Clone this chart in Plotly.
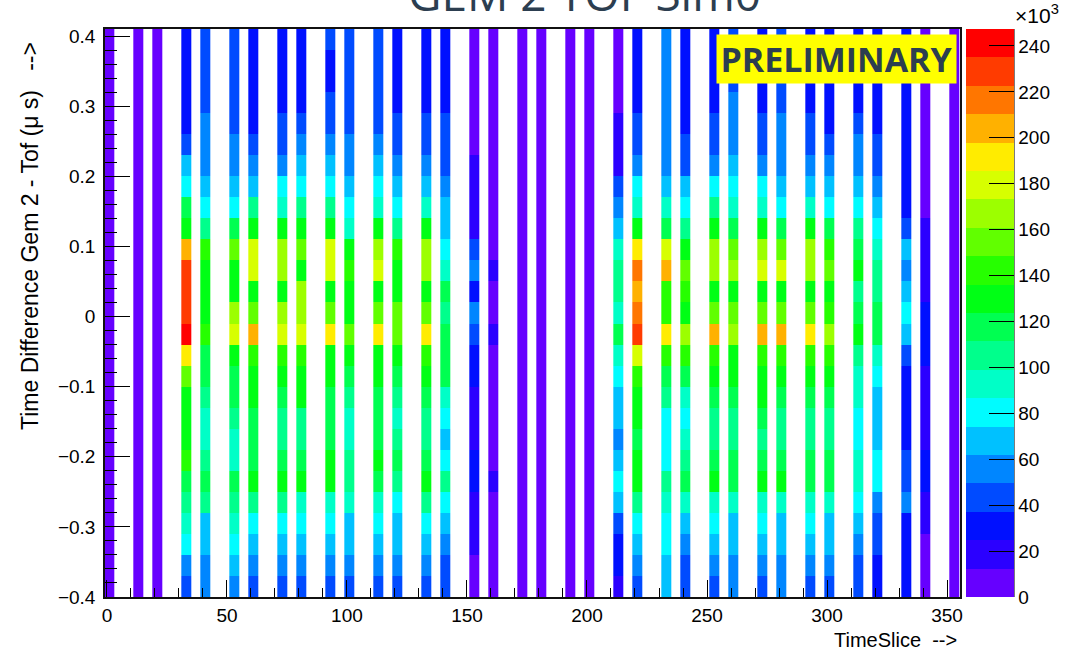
import colorsys
import plotly.graph_objects as go

# ---------------- data (counts in units of 10^3, rows bottom -> top) ----------------
time_slices = [1, 13, 21, 33, 41, 53, 61, 73, 81, 93, 101, 113, 121, 133, 141, 153, 161, 173,
               181, 193, 201, 213, 221, 233, 241, 253, 261, 273, 281, 293, 301, 313, 321, 333, 341, 353]

y_edges = [-0.40, -0.37, -0.34, -0.31, -0.28, -0.25, -0.22, -0.19, -0.16, -0.13, -0.10, -0.07, -0.04,
           -0.01, 0.02, 0.05, 0.08, 0.11, 0.14, 0.17, 0.20, 0.23, 0.26, 0.29, 0.32, 0.35, 0.38, 0.41]

c001 = [4, 5, 5, 6, 6, 7, 7, 6, 7, 7, 8, 8, 9, 9, 8, 8, 7, 7, 6, 6, 5, 5, 5, 4, 4, 4, 4]
c013 = [3, 4, 4, 5, 5, 6, 6, 6, 7, 7, 7, 8, 8, 8, 8, 8, 7, 7, 6, 6, 5, 5, 4, 4, 4, 3, 3]
c021 = [4, 4, 5, 5, 6, 6, 7, 7, 7, 8, 8, 8, 9, 9, 9, 8, 8, 7, 7, 6, 6, 5, 5, 4, 4, 4, 3]
c033 = [43, 56, 80, 93, 105, 117, 142, 130, 130, 130, 155, 192, 241, 229, 229, 226, 204, 130, 117, 80, 68, 43, 31, 31, 31, 31, 31]
c041 = [56, 56, 68, 68, 105, 117, 105, 93, 93, 105, 117, 117, 142, 130, 130, 130, 142, 105, 80, 68, 56, 56, 56, 43, 43, 43, 43]
c053 = [56, 68, 80, 93, 105, 117, 93, 93, 105, 117, 117, 130, 179, 167, 130, 130, 155, 117, 80, 68, 56, 56, 43, 43, 43, 43, 43]
c061 = [43, 56, 68, 80, 105, 130, 117, 117, 117, 130, 130, 142, 204, 155, 130, 179, 179, 130, 105, 68, 56, 43, 31, 31, 31, 31, 31]
c073 = [43, 56, 68, 80, 105, 130, 117, 105, 105, 117, 130, 142, 179, 167, 130, 167, 167, 130, 93, 80, 56, 43, 43, 31, 31, 31, 31]
c081 = [43, 56, 68, 80, 93, 130, 117, 105, 105, 130, 130, 142, 179, 167, 167, 130, 155, 130, 105, 80, 68, 56, 43, 31, 31, 31, 31]
c093 = [43, 56, 68, 80, 93, 130, 130, 117, 117, 117, 130, 130, 192, 155, 130, 179, 179, 130, 105, 80, 68, 56, 43, 43, 31, 31, 43]
c101 = [43, 56, 68, 68, 93, 105, 105, 93, 93, 105, 117, 130, 155, 130, 130, 142, 130, 93, 80, 68, 56, 56, 43, 43, 43, 43, 43]
c113 = [43, 56, 68, 80, 93, 117, 130, 117, 117, 117, 130, 130, 192, 155, 130, 179, 167, 130, 93, 80, 68, 56, 43, 43, 43, 43, 43]
c121 = [43, 56, 68, 68, 80, 105, 117, 105, 93, 105, 117, 130, 155, 155, 130, 130, 142, 105, 80, 68, 56, 43, 43, 31, 31, 31, 31]
c133 = [43, 56, 68, 80, 105, 130, 117, 105, 105, 117, 130, 142, 192, 155, 130, 167, 167, 130, 93, 68, 56, 43, 43, 31, 31, 31, 31]
c141 = [43, 43, 56, 68, 80, 105, 80, 68, 80, 93, 117, 117, 117, 105, 117, 93, 80, 68, 68, 56, 43, 43, 43, 31, 31, 31, 31]
c153 = [5, 8, 18, 18, 18, 31, 31, 18, 18, 18, 31, 31, 43, 56, 31, 50, 40, 18, 18, 18, 18, 6, 5, 4, 5, 4, 5]
c161 = [5, 6, 6, 7, 8, 14, 9, 9, 7, 8, 10, 11, 16, 11, 10, 15, 9, 8, 7, 6, 5, 5, 4, 4, 4, 5, 5]
c173 = [3, 4, 5, 5, 6, 7, 7, 7, 8, 8, 8, 9, 9, 9, 9, 8, 8, 7, 7, 6, 6, 5, 5, 4, 4, 3, 3]
c181 = [4, 4, 5, 6, 6, 7, 7, 8, 8, 8, 9, 9, 10, 10, 9, 9, 8, 8, 7, 7, 6, 5, 5, 4, 4, 4, 4]
c193 = [3, 3, 4, 5, 5, 6, 6, 7, 7, 7, 8, 8, 8, 8, 8, 7, 7, 7, 6, 6, 5, 5, 4, 4, 3, 3, 3]
c201 = [3, 4, 4, 5, 6, 6, 7, 7, 8, 8, 8, 9, 9, 9, 8, 8, 8, 7, 7, 6, 5, 5, 4, 4, 4, 3, 3]
c213 = [18, 31, 31, 43, 68, 80, 68, 56, 68, 68, 80, 93, 117, 93, 105, 105, 93, 68, 56, 43, 18, 18, 18, 9, 8, 7, 6]
c221 = [43, 56, 68, 80, 105, 130, 130, 117, 130, 130, 142, 179, 229, 216, 204, 216, 192, 130, 93, 80, 56, 43, 43, 31, 31, 31, 31]
c233 = [68, 68, 80, 80, 93, 105, 80, 80, 80, 105, 117, 142, 192, 142, 142, 204, 179, 117, 93, 68, 56, 56, 56, 56, 56, 56, 56]
c241 = [43, 43, 56, 68, 93, 117, 105, 93, 80, 93, 117, 142, 167, 130, 142, 155, 130, 105, 80, 68, 43, 43, 31, 31, 31, 31, 31]
c253 = [43, 56, 68, 80, 93, 130, 117, 105, 105, 117, 130, 142, 204, 155, 130, 167, 167, 130, 105, 80, 56, 43, 43, 31, 31, 31, 31]
c261 = [56, 56, 68, 68, 93, 117, 117, 105, 105, 117, 130, 130, 167, 155, 130, 167, 155, 117, 93, 80, 68, 56, 56, 56, 43, 43, 43]
c273 = [43, 56, 68, 80, 93, 130, 117, 105, 117, 130, 130, 142, 204, 155, 130, 179, 167, 130, 93, 80, 56, 43, 43, 31, 31, 31, 31]
c281 = [56, 56, 68, 68, 93, 130, 117, 105, 105, 117, 130, 142, 204, 155, 130, 179, 155, 117, 80, 68, 56, 56, 56, 43, 43, 43, 43]
c293 = [43, 56, 68, 80, 93, 117, 117, 105, 105, 117, 130, 142, 192, 155, 130, 167, 167, 130, 93, 68, 56, 43, 43, 31, 31, 31, 31]
c301 = [43, 56, 68, 68, 93, 117, 117, 105, 105, 117, 130, 142, 167, 142, 130, 155, 142, 117, 80, 68, 56, 43, 31, 31, 31, 31, 31]
c313 = [43, 43, 56, 68, 80, 93, 93, 80, 80, 93, 93, 105, 130, 117, 105, 130, 117, 105, 80, 68, 56, 56, 43, 31, 31, 31, 31]
c321 = [31, 31, 43, 43, 56, 80, 80, 68, 68, 68, 80, 93, 117, 117, 105, 105, 93, 80, 68, 56, 43, 43, 31, 31, 31, 31, 31]
c333 = [31, 31, 31, 31, 56, 43, 43, 31, 31, 31, 31, 43, 68, 80, 68, 56, 68, 43, 31, 31, 31, 31, 31, 31, 31, 31, 31]
c341 = [5, 6, 8, 18, 18, 31, 31, 18, 18, 18, 18, 31, 31, 31, 18, 18, 18, 18, 9, 7, 6, 5, 5, 4, 4, 5, 5]
c353 = [3, 4, 4, 5, 5, 6, 6, 7, 7, 7, 8, 8, 8, 8, 8, 7, 7, 7, 6, 6, 5, 5, 4, 4, 4, 3, 3]

columns = [c001, c013, c021, c033, c041, c053, c061, c073, c081, c093, c101, c113, c121, c133,
           c141, c153, c161, c173, c181, c193, c201, c213, c221, c233, c241, c253, c261, c273,
           c281, c293, c301, c313, c321, c333, c341, c353]

color_ticks = [0, 20, 40, 60, 80, 100, 120, 140, 160, 180, 200, 220, 240]

# ---------------- build histogram bricks ----------------
BIN_W = 4.2
x_edges = []
for c in time_slices:
    x_edges += [c - BIN_W / 2, c + BIN_W / 2]

n_rows = len(y_edges) - 1
z = []
for j in range(n_rows):
    row = []
    for i, col in enumerate(columns):
        if i > 0:
            row.append(None)  # empty gap between time slices
        row.append(col[j])
    z.append(row)

# ROOT-like rainbow palette with 20 contour levels
NLEV = 20
ZMAX = 247.4
colorscale = []
for k in range(NLEV):
    hue = (264.0 - k * 264.0 / (NLEV - 1)) / 360.0
    r, g, b = colorsys.hls_to_rgb(hue, 0.5, 1.0)
    col = "rgb(%d,%d,%d)" % (round(r * 255), round(g * 255), round(b * 255))
    colorscale.append([k / NLEV, col])
    colorscale.append([(k + 1) / NLEV, col])

# ---------------- figure ----------------
W, H = 1068, 653
L, R, T, B = 105, 108, 29, 56
PW, PH = W - L - R, H - T - B


def px_x(px):
    return (px - L) / PW


def px_y(py):
    return (H - B - py) / PH


fig = go.Figure()
fig.add_trace(go.Heatmap(
    x=x_edges, y=y_edges, z=z,
    zmin=0, zmax=ZMAX, colorscale=colorscale, zsmooth=False,
    hoverinfo="skip",
    colorbar=dict(
        thickness=48, thicknessmode="pixels", len=1, lenmode="fraction",
        x=px_x(966), xanchor="left", xpad=0, y=0.5, yanchor="middle", ypad=0,
        tickmode="array", tickvals=color_ticks, ticktext=[str(v) for v in color_ticks],
        ticks="inside", ticklen=25, tickwidth=1.3, tickcolor="black",
        tickfont=dict(family="Liberation Sans", size=19, color="black"),
        outlinewidth=0,
    ),
))

axis_font = dict(family="Liberation Sans", size=19, color="black")
fig.update_layout(
    width=W, height=H,
    margin=dict(l=L, r=R, t=T, b=B, pad=0, autoexpand=False),
    paper_bgcolor="white", plot_bgcolor="white",
    showlegend=False,
    xaxis=dict(
        range=[-0.8, 355.4], tick0=0, dtick=50, ticks="inside", ticklen=17, tickwidth=1.3,
        tickcolor="black", minor=dict(dtick=10, ticks="inside", ticklen=9, tickwidth=1.1, tickcolor="black"),
        showline=True, linecolor="#111111", linewidth=1.6, mirror=True,
        showgrid=False, zeroline=False, tickfont=axis_font,
    ),
    yaxis=dict(
        range=[-0.4, 0.41], tick0=0, dtick=0.1, ticks="inside", ticklen=25, tickwidth=1.3,
        tickcolor="black", minor=dict(dtick=0.02, ticks="inside", ticklen=12, tickwidth=1.1, tickcolor="black"),
        showline=True, linecolor="#111111", linewidth=1.6, mirror=True,
        showgrid=False, zeroline=False, tickfont=axis_font, ticklabelstandoff=4,
    ),
)

fig.add_shape(type="line", xref="paper", yref="paper", x0=px_x(1014), x1=px_x(1014), y0=0, y1=1,
              line=dict(color="#222222", width=1.2))

annotations = [
    dict(text="GEM 2 TOF Sim0", x=px_x(584), y=px_y(26), xanchor="center", yanchor="bottom",
         font=dict(family="Open Sans", size=46, color="#2c3e50")),
    dict(text="<b>PRELIMINARY</b>", x=px_x(836.5), y=px_y(59), xanchor="center", yanchor="middle",
         width=239, height=48, bgcolor="#ffff00", borderpad=0,
         font=dict(family="Open Sans", size=34, color="#2c3e50")),
    dict(text="Time Difference Gem 2 - Tof (μ s)   -->", textangle=-90, x=px_x(30), y=px_y(40),
         xanchor="center", yanchor="top", font=dict(family="Liberation Sans", size=23, color="black")),
    dict(text="TimeSlice  -->", x=px_x(959), y=px_y(640), xanchor="right", yanchor="middle",
         font=dict(family="Liberation Sans", size=20, color="black")),
    dict(text="×10<sup>3</sup>", x=px_x(1013), y=px_y(14), xanchor="left", yanchor="middle",
         font=dict(family="Liberation Sans", size=21, color="black")),
]
for a in annotations:
    a.setdefault("xref", "paper")
    a.setdefault("yref", "paper")
    a.setdefault("showarrow", False)
    fig.add_annotation(**a)

fig.write_html("out.html")
